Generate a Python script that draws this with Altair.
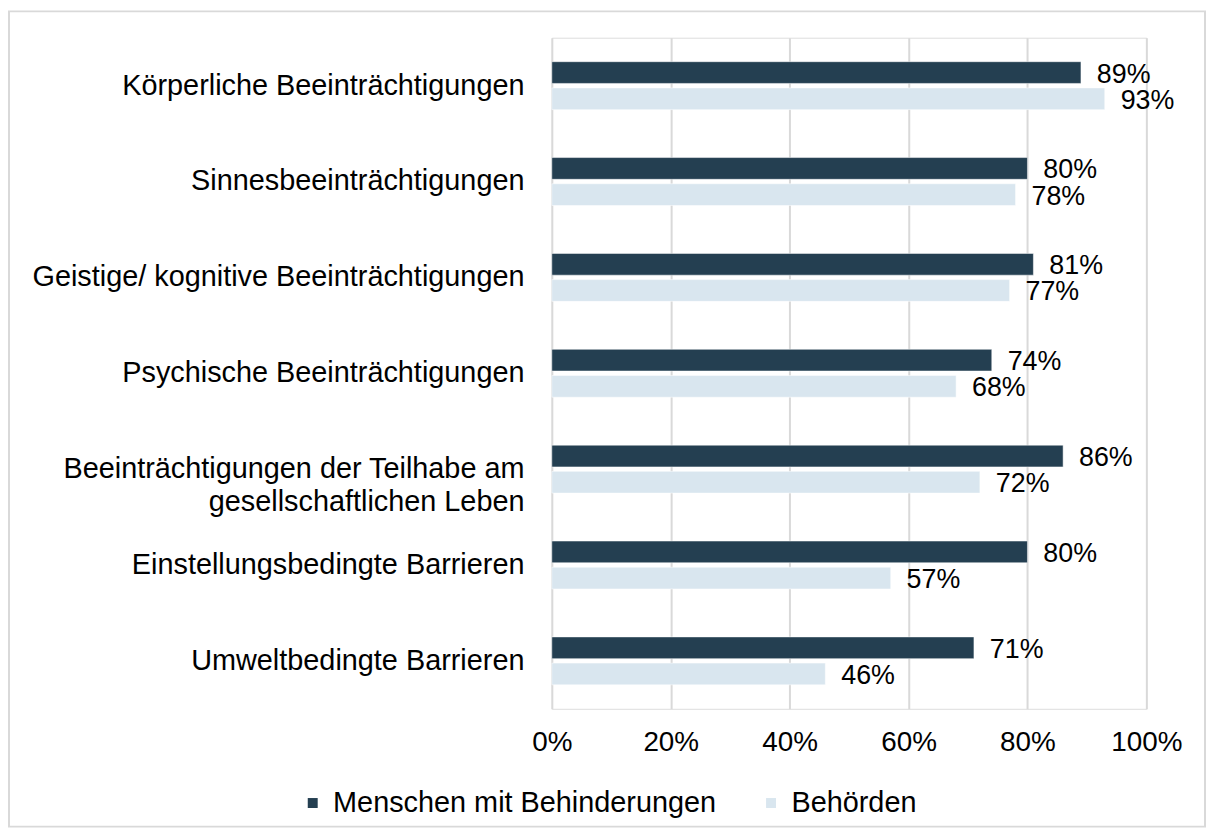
import altair as alt
import pandas as pd

categories = [
    "Körperliche Beeinträchtigungen",
    "Sinnesbeeinträchtigungen",
    "Geistige/ kognitive Beeinträchtigungen",
    "Psychische Beeinträchtigungen",
    "Beeinträchtigungen der Teilhabe am|gesellschaftlichen Leben",
    "Einstellungsbedingte Barrieren",
    "Umweltbedingte Barrieren",
]
series = ["Menschen mit Behinderungen", "Behörden"]
menschen = [0.89, 0.80, 0.81, 0.74, 0.86, 0.80, 0.71]
behoerden = [0.93, 0.78, 0.77, 0.68, 0.72, 0.57, 0.46]
colors = ["#243f51", "#d9e6ef"]
x_ticks = [0, 0.2, 0.4, 0.6, 0.8, 1.0]

rows = []
for c, a, b in zip(categories, menschen, behoerden):
    rows.append({"cat": c, "series": series[0], "value": a})
    rows.append({"cat": c, "series": series[1], "value": b})
df = pd.DataFrame(rows)

FONT = "Liberation Sans"
FS = 28
FS_LBL = 27
FS_Y = 29
W, H = 598, 675
PAD_L, PAD_T = 547, 27.5
TOTAL_W, TOTAL_H = 1206, 822

y_enc = alt.Y(
    "cat:N",
    sort=categories,
    scale=alt.Scale(paddingInner=0.5, paddingOuter=0.25),
    axis=alt.Axis(
        title=None,
        labelExpr="split(datum.label, '|')",
        labelFont=FONT,
        labelFontSize=FS_Y,
        labelColor="#000000",
        labelLineHeight=33,
        labelPadding=28,
        ticks=False,
        domain=False,
        grid=False,
        labelLimit=600,
    ),
)
x_enc = alt.X(
    "value:Q",
    scale=alt.Scale(domain=[0, 1]),
    axis=alt.Axis(
        title=None,
        format=".0%",
        values=x_ticks,
        labelFont=FONT,
        labelFontSize=FS,
        labelColor="#000000",
        labelPadding=20,
        labelFlush=False,
        ticks=False,
        domain=False,
        grid=True,
        gridColor="#d9d9d9",
        gridWidth=2,
    ),
)
y_off = alt.YOffset(
    "series:N", sort=series, scale=alt.Scale(paddingInner=0.17, paddingOuter=0)
)

bars = alt.Chart(df).mark_bar(stroke="white", strokeWidth=0.5).encode(
    y=y_enc,
    x=x_enc,
    yOffset=y_off,
    color=alt.Color(
        "series:N",
        sort=series,
        scale=alt.Scale(domain=series, range=colors),
        legend=alt.Legend(
            title=None,
            orient="none",
            legendX=-255,
            legendY=755,
            direction="horizontal",
            symbolType="square",
            symbolSize=100,
            symbolStrokeWidth=0,
            labelFont=FONT,
            labelFontSize=FS_Y,
            labelColor="#000000",
            labelOffset=6,
            columnPadding=40,
            padding=0,
            labelLimit=600,
        ),
    ),
)

labels = alt.Chart(df).mark_text(
    align="left", baseline="middle", dx=16, dy=2, font=FONT, fontSize=FS_LBL, color="#000000"
).encode(
    y=alt.Y("cat:N", sort=categories),
    x=alt.X("value:Q"),
    yOffset=alt.YOffset("series:N", sort=series),
    text=alt.Text("value:Q", format=".0%"),
)

border = alt.Chart(alt.Data(values=[{}])).mark_rect(
    fill=None, stroke="#d9d9d9", strokeWidth=2
).encode(
    x=alt.value(-PAD_L + 1),
    x2=alt.value(TOTAL_W - PAD_L - 2),
    y=alt.value(-PAD_T + 1),
    y2=alt.value(TOTAL_H - PAD_T - 1),
)

chart = (
    alt.layer(border, bars, labels)
    .properties(
        width=W,
        height=H,
        autosize=alt.AutoSizeParams(type="none"),
        padding={"left": PAD_L, "top": PAD_T, "right": TOTAL_W - PAD_L - W, "bottom": TOTAL_H - PAD_T - H},
    )
    .configure_view(stroke=None)
    .configure(background="white")
)

chart.save("out.html", embed_options={"renderer": "svg", "actions": False})
